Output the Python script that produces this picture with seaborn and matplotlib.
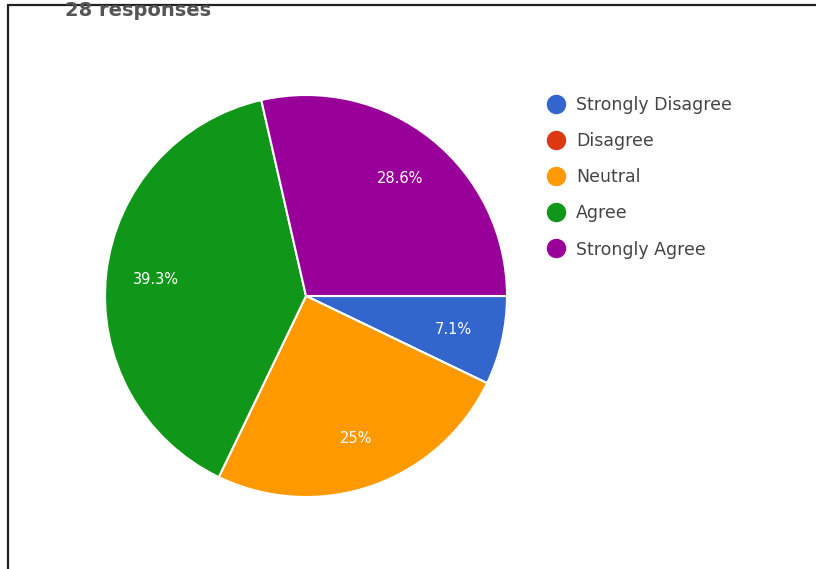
import matplotlib
matplotlib.use("Agg")
import matplotlib.pyplot as plt
from matplotlib.lines import Line2D
import seaborn as sns

# Survey answers (28 responses)
categories = ["Strongly Disagree", "Disagree", "Neutral", "Agree", "Strongly Agree"]
counts = [2, 0, 7, 11, 8]
colors = ["#3366CC", "#DC3912", "#FF9900", "#109618", "#990099"]
title_text = "28 responses"

sns.set_theme(style="white")
plt.rcParams["font.family"] = ["DejaVu Sans"]

W, H = 816, 569
fig = plt.figure(figsize=(W / 100, H / 100), dpi=100)
fig.patch.set_facecolor("white")

# pie placement in pixels: centre and radius
cx, cy, r = 306, 296, 201
ax = fig.add_axes([(cx - r) / W, (H - cy - r) / H, 2 * r / W, 2 * r / H])


def pct_label(p):
    if p < 0.05:
        return ""
    s = f"{p:.1f}".rstrip("0").rstrip(".")
    return s + "%"


wedges, texts, autotexts = ax.pie(
    counts,
    colors=colors,
    startangle=0,
    counterclock=False,
    autopct=pct_label,
    pctdistance=0.75,
    wedgeprops=dict(edgecolor="white", linewidth=1.5),
    textprops=dict(color="white", fontsize=10.5),
)
ax.set_xlim(-1.0, 1.0)
ax.set_ylim(-1.0, 1.0)
ax.set_aspect("equal")
ax.axis("off")
for w in wedges:
    w.set_clip_on(False)

# legend with round markers
handles = [
    Line2D([0], [0], marker="o", linestyle="none", markersize=13,
           markerfacecolor=c, markeredgecolor=c)
    for c in colors
]
fig.legend(
    handles, categories,
    loc="upper left",
    bbox_to_anchor=(530 / W, 1 - 80 / H),
    frameon=False,
    fontsize=12.5,
    labelcolor="#444444",
    labelspacing=1.05,
    handletextpad=0.55,
    handlelength=1.2,
)

# heading at the top edge
fig.text(65 / W, 1 - 1 / H, title_text, fontsize=14, fontweight="bold",
         color="#555555", va="top", ha="left")

# frame lines on the left and top
fig.add_artist(Line2D([8 / W, 8 / W], [0, 1 - 5 / H], color="#222222",
                      linewidth=1.6, transform=fig.transFigure))
fig.add_artist(Line2D([8 / W, 1], [1 - 5 / H, 1 - 5 / H], color="#222222",
                      linewidth=1.6, transform=fig.transFigure))

fig.savefig("out.png", dpi=100, facecolor="white")
